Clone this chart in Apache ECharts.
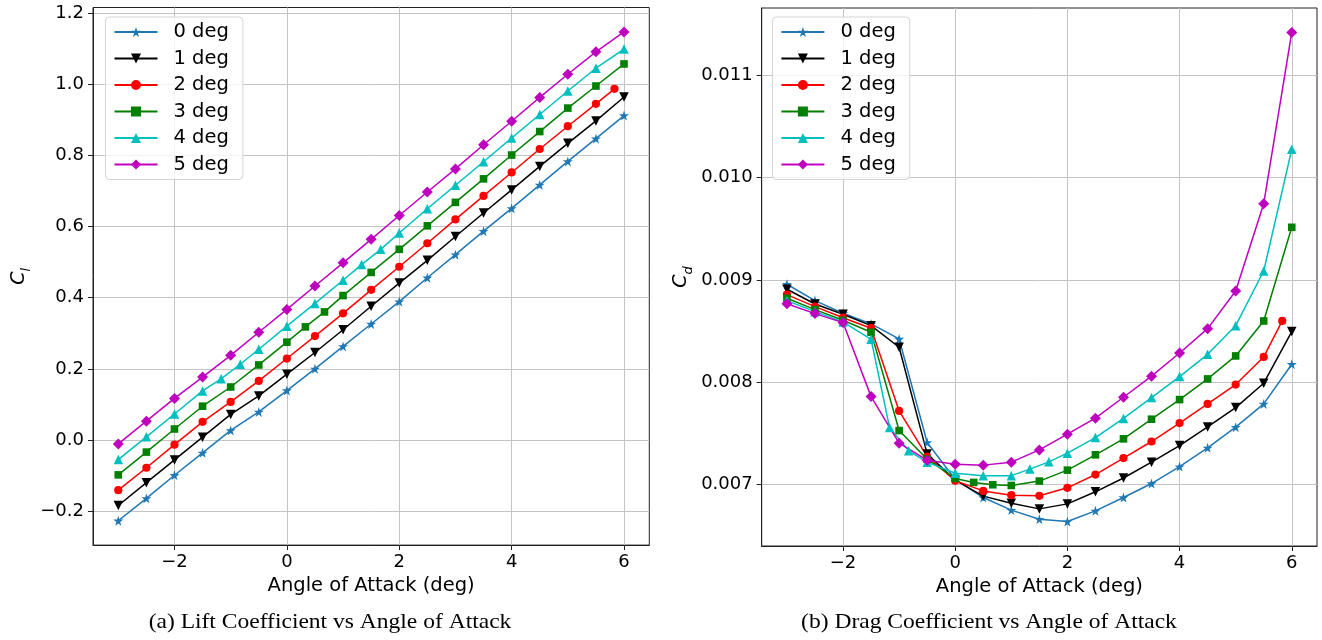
<!DOCTYPE html>
<html>
<head>
<meta charset="utf-8">
<script src="https://cdn.jsdelivr.net/npm/echarts@6/dist/echarts.min.js"></script>
<style>
  html, body { margin: 0; padding: 0; background: #ffffff; }
  #chart { width: 1322px; height: 640px; }
</style>
</head>
<body>
<div id="chart"></div>
<script>
// Flap deflection cases
const seriesNames = ['0 deg', '1 deg', '2 deg', '3 deg', '4 deg', '5 deg'];

// Angle-of-attack grids (deg); some cases were refined locally
const aoaStd = [-3, -2.5, -2, -1.5, -1, -0.5, 0, 0.5, 1, 1.5, 2, 2.5, 3, 3.5, 4, 4.5, 5, 5.5, 6];
const aoa2   = [-3, -2.5, -2, -1.5, -1, -0.5, 0, 0.5, 1, 1.5, 2, 2.5, 3, 3.5, 4, 4.5, 5, 5.5, 5.83];
const aoa3   = [-3, -2.5, -2, -1.5, -1, -0.5, 0, 0.33, 0.67, 1, 1.5, 2, 2.5, 3, 3.5, 4, 4.5, 5, 5.5, 6];
const aoa4   = [-3, -2.5, -2, -1.5, -1.17, -0.83, -0.5, 0, 0.5, 1, 1.33, 1.67, 2, 2.5, 3, 3.5, 4, 4.5, 5, 5.5, 6];

// Lift coefficient
const cl0 = [-0.227, -0.164, -0.099, -0.036, 0.027, 0.079, 0.139, 0.200, 0.263, 0.326, 0.389, 0.456, 0.521, 0.587, 0.651, 0.717, 0.783, 0.847, 0.912];
const cl1 = [-0.184, -0.120, -0.056, 0.008, 0.072, 0.124, 0.185, 0.246, 0.310, 0.376, 0.441, 0.505, 0.572, 0.638, 0.703, 0.769, 0.834, 0.897, 0.964];
const cl2 = [-0.141, -0.078, -0.013, 0.051, 0.107, 0.166, 0.229, 0.292, 0.356, 0.422, 0.487, 0.553, 0.620, 0.686, 0.752, 0.818, 0.882, 0.945, 0.987];
const cl3 = [-0.098, -0.034, 0.031, 0.095, 0.149, 0.211, 0.275, 0.318, 0.360, 0.406, 0.471, 0.536, 0.602, 0.668, 0.734, 0.801, 0.867, 0.933, 0.995, 1.057];
const cl4 = [-0.055, 0.009, 0.073, 0.138, 0.172, 0.213, 0.255, 0.320, 0.384, 0.449, 0.493, 0.536, 0.582, 0.650, 0.716, 0.782, 0.849, 0.915, 0.981, 1.045, 1.099];
const cl5 = [-0.011, 0.053, 0.117, 0.177, 0.238, 0.303, 0.367, 0.433, 0.498, 0.564, 0.631, 0.697, 0.762, 0.830, 0.896, 0.963, 1.028, 1.091, 1.147];

// Drag coefficient
const cd0 = [0.008958, 0.008798, 0.008674, 0.008570, 0.008423, 0.007410, 0.007050, 0.006872, 0.006749, 0.006660, 0.006637, 0.006742, 0.006872, 0.007009, 0.007175, 0.007358, 0.007560, 0.007788, 0.008176];
const cd1 = [0.008909, 0.008765, 0.008665, 0.008553, 0.008342, 0.007299, 0.007042, 0.006886, 0.006817, 0.006761, 0.006810, 0.006928, 0.007063, 0.007218, 0.007380, 0.007563, 0.007752, 0.007990, 0.008495];
const cd2 = [0.008857, 0.008739, 0.008631, 0.008528, 0.007719, 0.007273, 0.007036, 0.006937, 0.006895, 0.006889, 0.006967, 0.007097, 0.007258, 0.007420, 0.007600, 0.007788, 0.007977, 0.008247, 0.008599];
const cd3 = [0.008821, 0.008710, 0.008606, 0.008489, 0.007527, 0.007247, 0.007059, 0.007020, 0.006997, 0.006990, 0.007033, 0.007140, 0.007290, 0.007446, 0.007638, 0.007830, 0.008032, 0.008257, 0.008599, 0.009515];
const cd4 = [0.008798, 0.008690, 0.008590, 0.008420, 0.007556, 0.007329, 0.007218, 0.007110, 0.007086, 0.007086, 0.007150, 0.007221, 0.007306, 0.007458, 0.007646, 0.007850, 0.008055, 0.008273, 0.008553, 0.009088, 0.010278];
const cd5 = [0.008768, 0.008671, 0.008583, 0.007859, 0.007404, 0.007237, 0.007198, 0.007189, 0.007218, 0.007338, 0.007492, 0.007648, 0.007853, 0.008059, 0.008286, 0.008524, 0.008892, 0.009746, 0.011421];

// Tick labels
const xTicks  = [-2, 0, 2, 4, 6];
const clTicks = [-0.2, 0.0, 0.2, 0.4, 0.6, 0.8, 1.0, 1.2];
const cdTicks = [0.007, 0.008, 0.009, 0.010, 0.011];

const FONT = 'DejaVu Sans';
const STAR = 'path://M0,-10L2.245,-3.09L9.511,-3.09L3.633,1.18L5.878,8.09L0,3.82L-5.878,8.09L-3.633,1.18L-9.511,-3.09L-2.245,-3.09Z';

const styles = [
  { color: '#1f77b4', symbol: STAR,       size: 10,  rotate: 0 },
  { color: '#000000', symbol: 'triangle', size: 9.5, rotate: 180 },
  { color: '#ff0000', symbol: 'circle',   size: 8.2, rotate: 0 },
  { color: '#008000', symbol: 'rect',     size: 7.6, rotate: 0 },
  { color: '#00bfbf', symbol: 'triangle', size: 9.5, rotate: 0 },
  { color: '#bf00bf', symbol: 'diamond',  size: 11,  rotate: 0 }
];

const aoaSets = [aoaStd, aoaStd, aoa2, aoa3, aoa4, aoaStd];
const clSets = [cl0, cl1, cl2, cl3, cl4, cl5];
const cdSets = [cd0, cd1, cd2, cd3, cd4, cd5];

const minus = s => s.replace('-', '\u2212');

function makeSeries(idx, xs, ys, axisIdx) {
  const st = styles[idx];
  return {
    name: seriesNames[idx],
    type: 'line',
    xAxisIndex: axisIdx,
    yAxisIndex: axisIdx,
    data: xs.map((x, i) => [x, ys[i]]),
    symbol: st.symbol,
    symbolSize: st.size,
    symbolRotate: st.rotate,
    lineStyle: { color: st.color, width: 1.5 },
    itemStyle: { color: st.color },
    emphasis: { disabled: true },
    clip: false,
    animation: false
  };
}

function xAxisOf(gridIdx) {
  return {
    type: 'value', gridIndex: gridIdx, min: -3.45, max: 6.45,
    axisLine: { show: true, onZero: false, lineStyle: { color: '#222', width: 1 } },
    axisTick: { show: true, customValues: xTicks, length: 5, lineStyle: { color: '#222', width: 1 } },
    axisLabel: { customValues: xTicks, formatter: v => minus(String(v)), fontSize: 18, fontFamily: FONT, color: '#000', margin: 8 },
    splitLine: { show: true, lineStyle: { color: '#c4c4c4', width: 1 } },
    name: 'Angle of Attack (deg)', nameLocation: 'middle', nameGap: 27,
    nameTextStyle: { fontSize: 19.5, fontFamily: FONT, color: '#000' }
  };
}

function yAxisOf(gridIdx, min, max, ticks, digits, sub, gap) {
  return {
    type: 'value', gridIndex: gridIdx, min: min, max: max,
    axisLine: { show: true, onZero: false, lineStyle: { color: '#222', width: 1 } },
    axisTick: { show: true, customValues: ticks, length: 5, lineStyle: { color: '#222', width: 1 } },
    axisLabel: { customValues: ticks, formatter: v => minus(v.toFixed(digits)), fontSize: 18, fontFamily: FONT, color: '#000', margin: 9 },
    splitLine: { show: true, lineStyle: { color: '#c4c4c4', width: 1 } },
    name: '{c|C}{s|' + sub + '}', nameLocation: 'middle', nameRotate: 90, nameGap: gap,
    nameTextStyle: {
      color: '#000',
      rich: {
        c: { fontSize: 19, fontStyle: 'italic', fontFamily: FONT, lineHeight: 27, color: '#000' },
        s: { fontSize: 13, fontStyle: 'italic', fontFamily: FONT, lineHeight: 14, verticalAlign: 'bottom', color: '#000' }
      }
    }
  };
}

function legendAt(left) {
  return {
    left: left, top: 17, orient: 'vertical',
    data: seriesNames,
    itemWidth: 43, itemHeight: 12.5, itemGap: 6.5,
    selectedMode: false,
    textStyle: { fontSize: 19.5, fontFamily: FONT, color: '#000', padding: [0, 0, 0, 11] },
    backgroundColor: 'rgba(255,255,255,0.8)',
    borderColor: '#d4d4d4', borderWidth: 1, borderRadius: 4,
    padding: [5, 14, 5, 8]
  };
}

const series = [];
for (let i = 0; i < 6; i++) series.push(makeSeries(i, aoaSets[i], clSets[i], 0));
for (let i = 0; i < 6; i++) series.push(makeSeries(i, aoaSets[i], cdSets[i], 1));

const captionStyle = { font: '21px "Liberation Serif"', fill: '#000', align: 'center', verticalAlign: 'middle' };

const option = {
  animation: false,
  backgroundColor: '#ffffff',
  textStyle: { fontFamily: FONT },
  grid: [
    { left: 93, top: 7.5, width: 556.3, height: 537.6, show: true, borderColor: '#222', borderWidth: 1, backgroundColor: 'transparent', containLabel: false, outerBoundsMode: 'none' },
    { left: 761.7, top: 8, width: 555.3, height: 538, show: true, borderColor: '#222', borderWidth: 1, backgroundColor: 'transparent', containLabel: false, outerBoundsMode: 'none' }
  ],
  xAxis: [xAxisOf(0), xAxisOf(1)],
  yAxis: [
    yAxisOf(0, -0.2954, 1.2157, clTicks, 1, 'l', 60),
    yAxisOf(1, 0.006398, 0.01166, cdTicks, 3, 'd', 67)
  ],
  legend: [legendAt(105.5), legendAt(772.4)],
  graphic: [
    { type: 'text', x: 330, y: 622, scaleX: 1.12, silent: true,
      style: Object.assign({ text: '(a) Lift Coefficient vs Angle of Attack' }, captionStyle) },
    { type: 'text', x: 989, y: 622, scaleX: 1.12, silent: true,
      style: Object.assign({ text: '(b) Drag Coefficient vs Angle of Attack' }, captionStyle) }
  ],
  series: series
};

const chart = echarts.init(document.getElementById('chart'), null, { renderer: 'canvas' });
chart.setOption(option);
</script>
</body>
</html>
